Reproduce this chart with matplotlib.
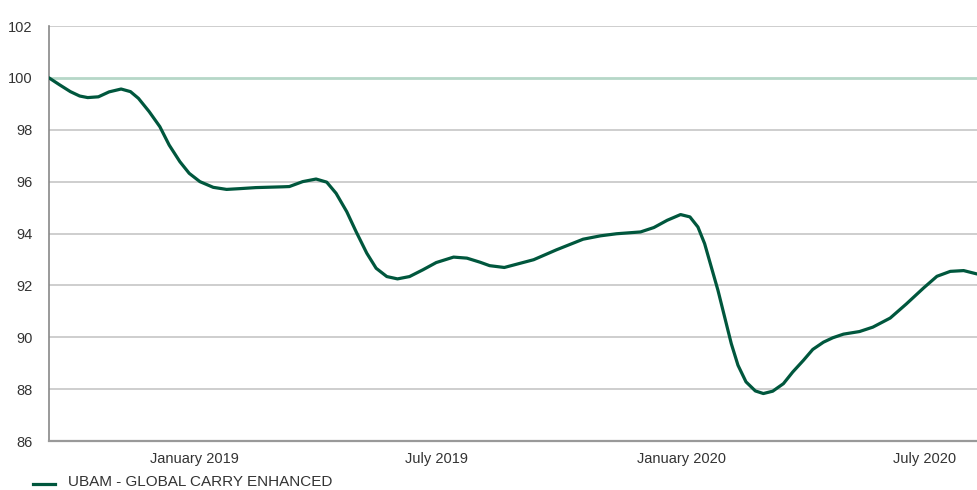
import numpy as np
import pandas as pd
import matplotlib
matplotlib.use("Agg")
import matplotlib.pyplot as plt

# values
dates = [
    "2018-09-14", "2018-09-22", "2018-09-30", "2018-10-07", "2018-10-13", "2018-10-21",
    "2018-10-29", "2018-11-07", "2018-11-14", "2018-11-20", "2018-11-28", "2018-12-06",
    "2018-12-13", "2018-12-21", "2018-12-28", "2019-01-05", "2019-01-15", "2019-01-25",
    "2019-02-04", "2019-02-16", "2019-03-08", "2019-03-13", "2019-03-23", "2019-04-02",
    "2019-04-10", "2019-04-17", "2019-04-25", "2019-05-02", "2019-05-10", "2019-05-17",
    "2019-05-25", "2019-06-02", "2019-06-11", "2019-06-21", "2019-07-01", "2019-07-14",
    "2019-07-24", "2019-08-03", "2019-08-10", "2019-08-21", "2019-09-12", "2019-09-29",
    "2019-10-19", "2019-11-01", "2019-11-13", "2019-12-01", "2019-12-11", "2019-12-21",
    "2019-12-31", "2020-01-07", "2020-01-13", "2020-01-18", "2020-01-23", "2020-01-28",
    "2020-02-02", "2020-02-07", "2020-02-12", "2020-02-18", "2020-02-25", "2020-03-02",
    "2020-03-09", "2020-03-17", "2020-03-24", "2020-04-01", "2020-04-08", "2020-04-16",
    "2020-04-23", "2020-05-01", "2020-05-13", "2020-05-23", "2020-06-05", "2020-06-17",
    "2020-06-30", "2020-07-10", "2020-07-20", "2020-07-30", "2020-08-09",
]
values = [
    100.00, 99.73, 99.47, 99.30, 99.24, 99.27,
    99.46, 99.57, 99.47, 99.21, 98.70, 98.12,
    97.41, 96.77, 96.32, 96.00, 95.78, 95.70,
    95.73, 95.77, 95.80, 95.81, 96.00, 96.10,
    95.98, 95.55, 94.84, 94.07, 93.24, 92.66,
    92.34, 92.25, 92.34, 92.60, 92.88, 93.09,
    93.05, 92.89, 92.76, 92.69, 92.99, 93.37,
    93.78, 93.91, 93.99, 94.06, 94.23, 94.51,
    94.73, 94.64, 94.25, 93.61, 92.71, 91.81,
    90.78, 89.75, 88.92, 88.28, 87.93, 87.83,
    87.92, 88.21, 88.66, 89.11, 89.53, 89.81,
    89.98, 90.12, 90.22, 90.39, 90.74, 91.28,
    91.90, 92.35, 92.54, 92.57, 92.44,
]
yticks = [86, 88, 90, 92, 94, 96, 98, 100, 102]
xticks = ["2019-01-01", "2019-07-01", "2020-01-01", "2020-07-01"]
xlabels = ["January 2019", "July 2019", "January 2020", "July 2020"]
series_name = "UBAM - GLOBAL CARRY ENHANCED"

green = "#00573d"
plt.rcParams["font.family"] = ["Liberation Sans", "DejaVu Sans"]

fig = plt.figure(figsize=(9.77, 4.9), dpi=100)
ax = fig.add_axes([49 / 977, 49 / 490, 1 - 49 / 977, 415 / 490])

x = pd.to_datetime(dates)
ax.set_xlim(x[0], x[-1])
ax.set_ylim(86, 102)

for t in yticks[1:]:
    if t == 100:
        ax.axhline(t, color="#b6d7c8", lw=2.0, zorder=1)
    else:
        ax.axhline(t, color="#c6c6c6", lw=1.2, zorder=1)

ax.plot(x, values, color=green, lw=2.3, solid_joinstyle="round",
        solid_capstyle="round", zorder=3)

ax.set_yticks(yticks)
ax.set_yticklabels([str(t) for t in yticks])
ax.set_xticks(pd.to_datetime(xticks))
ax.set_xticklabels(xlabels)
ax.tick_params(axis="y", length=0, pad=12, labelsize=10.5, labelcolor="#333333")
ax.tick_params(axis="x", length=0, pad=8, labelsize=10.5, labelcolor="#333333")

for s in ["top", "right"]:
    ax.spines[s].set_visible(False)
ax.spines["left"].set_color("#888888")
ax.spines["left"].set_linewidth(1.2)
ax.spines["bottom"].set_color("#999999")
ax.spines["bottom"].set_linewidth(1.6)

# legend under the axis, pushed as low as it goes while staying whole
fig.add_artist(plt.Line2D([33 / 977, 55 / 977], [6 / 490, 6 / 490],
                          color=green, lw=2.3, transform=fig.transFigure))
fig.text(68 / 977, 1 / 490, series_name, fontsize=11, color="#333333",
         va="bottom", ha="left")

fig.savefig("out.png", dpi=100)
